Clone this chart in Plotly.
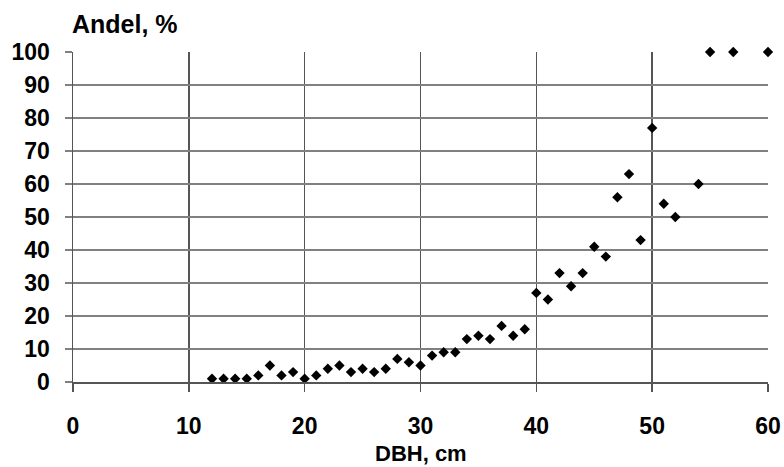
import plotly.graph_objects as go

dbh = [12, 13, 14, 15, 16, 17, 18, 19, 20, 21, 22, 23, 24, 25, 26, 27, 28, 29, 30,
       31, 32, 33, 34, 35, 36, 37, 38, 39, 40, 41, 42, 43, 44, 45, 46, 47, 48, 49,
       50, 51, 52, 54, 55, 57, 60]
andel = [1, 1, 1, 1, 2, 5, 2, 3, 1, 2, 4, 5, 3, 4, 3, 4, 7, 6, 5,
         8, 9, 9, 13, 14, 13, 17, 14, 16, 27, 25, 33, 29, 33, 41, 38, 56, 63, 43,
         77, 54, 50, 60, 100, 100, 100]

x_ticks = [0, 10, 20, 30, 40, 50, 60]
y_ticks = [0, 10, 20, 30, 40, 50, 60, 70, 80, 90, 100]

FONT = "Liberation Sans, Arial, sans-serif"

fig = go.Figure()
fig.add_trace(go.Scatter(
    x=dbh, y=andel, mode="markers",
    marker=dict(symbol="diamond", size=8, color="black"),
    cliponaxis=False, showlegend=False,
))

fig.update_layout(
    width=784, height=467,
    margin=dict(l=73, r=16, t=52, b=85, autoexpand=False),
    paper_bgcolor="white", plot_bgcolor="white",
    font=dict(family=FONT, size=23, color="black"),
    xaxis=dict(
        range=[0, 60], tickvals=x_ticks, ticktext=[str(v) for v in x_ticks],
        showgrid=True, gridcolor="#555555", gridwidth=1.5,
        showline=True, linecolor="#555555", linewidth=1.5,
        ticks="outside", ticklen=8, tickcolor="#555555", tickwidth=1.5,
        tickfont=dict(family=FONT, size=23, weight="bold"),
        ticklabelstandoff=15, automargin=False,
        zeroline=False, fixedrange=True,
    ),
    yaxis=dict(
        range=[0, 100], tickvals=y_ticks, ticktext=[str(v) for v in y_ticks],
        showgrid=True, gridcolor="#808080", gridwidth=1.5,
        showline=True, linecolor="#555555", linewidth=1.5,
        ticks="outside", ticklen=7, tickcolor="#808080", tickwidth=1.5,
        tickfont=dict(family=FONT, size=23, weight="bold"),
        ticklabelstandoff=10, automargin=False,
        zeroline=False, fixedrange=True,
    ),
    annotations=[
        dict(text="DBH, cm", xref="x", yref="paper", x=30, y=-0.218,
             xanchor="center", yanchor="middle", showarrow=False,
             font=dict(family=FONT, size=22, weight="bold")),
        dict(text="Andel, %", xref="paper", yref="paper", x=-0.005, y=1.085,
             xanchor="left", yanchor="middle", showarrow=False,
             font=dict(family=FONT, size=25, weight="bold")),
    ],
)

fig.write_html(
    "out.html",
    config={"displayModeBar": False, "staticPlot": True},
    post_script="document.body.style.margin='0';document.body.style.overflow='hidden';",
)
